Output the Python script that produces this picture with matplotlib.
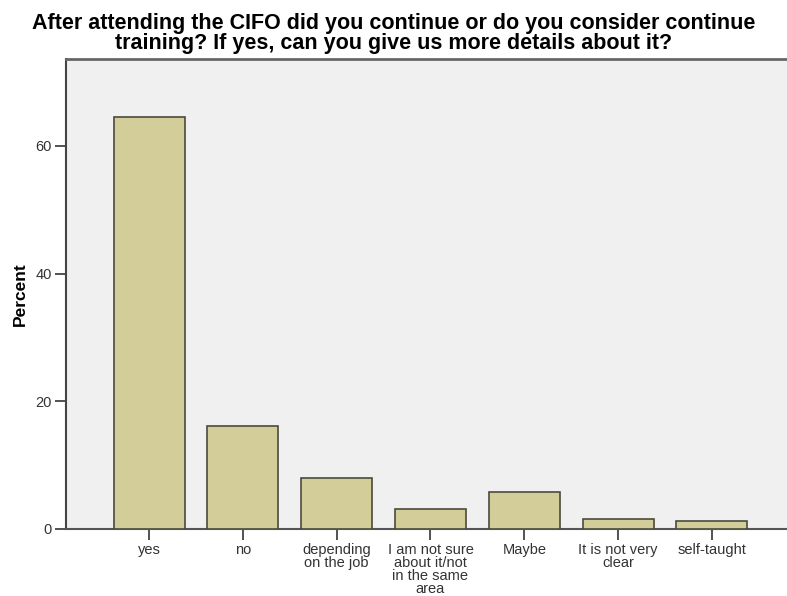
import matplotlib.pyplot as plt
import numpy as np

# respuestas y porcentajes
categories = ["yes", "no", "depending\non the job", "I am not sure\nabout it/not\nin the same\narea",
              "Maybe", "It is not very\nclear", "self-taught"]
percent = [64.5, 16.1, 8.0, 3.2, 5.8, 1.6, 1.2]
yticks = [0, 20, 40, 60]

title = ("After attending the CIFO did you continue or do you consider continue\n"
         "training? If yes, can you give us more details about it?")

plt.rcParams['font.family'] = ['Liberation Sans Narrow', 'Liberation Sans', 'DejaVu Sans']

fig = plt.figure(figsize=(7.87, 5.96), dpi=100)
ax = fig.add_axes([66 / 787, 67 / 596, 1 - 66 / 787, (529 - 59) / 596])
ax.set_facecolor('#f0f0f0')

x = np.arange(len(categories))
ax.bar(x, percent, width=0.757, color='#d3ce99', edgecolor='#4a4a3c', linewidth=1.2, zorder=3)

ax.set_xlim(-0.885, 6.80)
ax.set_ylim(0, 73.6)
ax.set_xticks(x)
ax.set_xticklabels(categories, fontsize=10.5, color='#333333', linespacing=0.9, va='top')
ax.set_yticks(yticks)
ax.set_yticklabels([str(v) for v in yticks], fontsize=10.5, color='#333333')
ax.tick_params(axis='both', length=8, width=1.3, color='#444444', direction='out', pad=2)

ax.spines['right'].set_visible(False)
ax.spines['left'].set_color('#444444')
ax.spines['left'].set_linewidth(1.5)
ax.spines['bottom'].set_color('#555555')
ax.spines['bottom'].set_linewidth(1.5)
ax.spines['top'].set_color('#666666')
ax.spines['top'].set_linewidth(2)

ax.set_ylabel("Percent", fontsize=12.5, fontweight='bold', labelpad=6)

fig.text(0.5, 0.978, title, ha='center', va='top', fontsize=15.5, fontweight='bold',
         linespacing=0.95)

fig.savefig('out.png', dpi=100)
